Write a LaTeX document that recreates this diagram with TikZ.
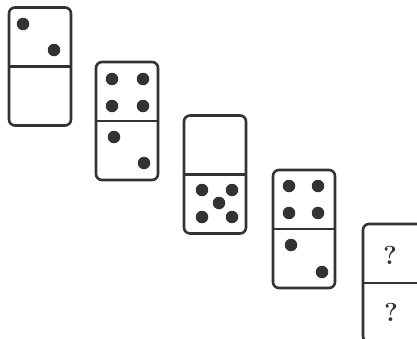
\documentclass[tikz,border=0pt]{standalone}
\usetikzlibrary{positioning}

\begin{document}
\begin{tikzpicture}[
        x=1pt, y=-1pt,
        domino/.style={draw=black!80, line width=2.6pt, rounded corners=6pt, minimum width=62pt, minimum height=118pt, inner sep=0pt},
        split/.style={draw=black!80, line width=2.6pt},
        pip/.style={circle, fill=black!80, inner sep=0pt, minimum size=12.5pt},
        query/.style={font=\fontsize{26}{28}\selectfont\bfseries, text=black!80}
    ]
        \useasboundingbox (0,0) rectangle (417,338);
        \clip (0,0) rectangle (417,338);

        \node[domino] (d1) at (40,66.5) {};
        \node[domino] (d2) at (127,121) {};
        \node[domino] (d3) at (215,174.5) {};
        \node[domino] (d4) at (304,229) {};
        \node[domino] (d5) at (394,283) {};

        \draw[split] (d1.west) -- (d1.east);
        \draw[split] (d2.west) -- (d2.east);
        \draw[split] (d3.west) -- (d3.east);
        \draw[split] (d4.west) -- (d4.east);
        \draw[split] (d5.west) -- (d5.east);

        % pips
        \foreach \p [count=\i] in {{23,24},{54,50}}
            \node[pip] (a\i) at (\p) {};
        \foreach \p [count=\i] in {{112,79},{143,79},{112,106},{143,106},{114,137},{144,163}}
            \node[pip] (b\i) at (\p) {};
        \foreach \p [count=\i] in {{202,190},{232,190},{219,203},{202,217},{232,217}}
            \node[pip] (c\i) at (\p) {};
        \foreach \p [count=\i] in {{289,186},{318,186},{289,213},{318,213},{291,245},{322,272}}
            \node[pip] (e\i) at (\p) {};

        \node[query] (q1) at (390,255) {?};
        \node[query] (q2) at (391,312) {?};
    \end{tikzpicture}
\end{document}
